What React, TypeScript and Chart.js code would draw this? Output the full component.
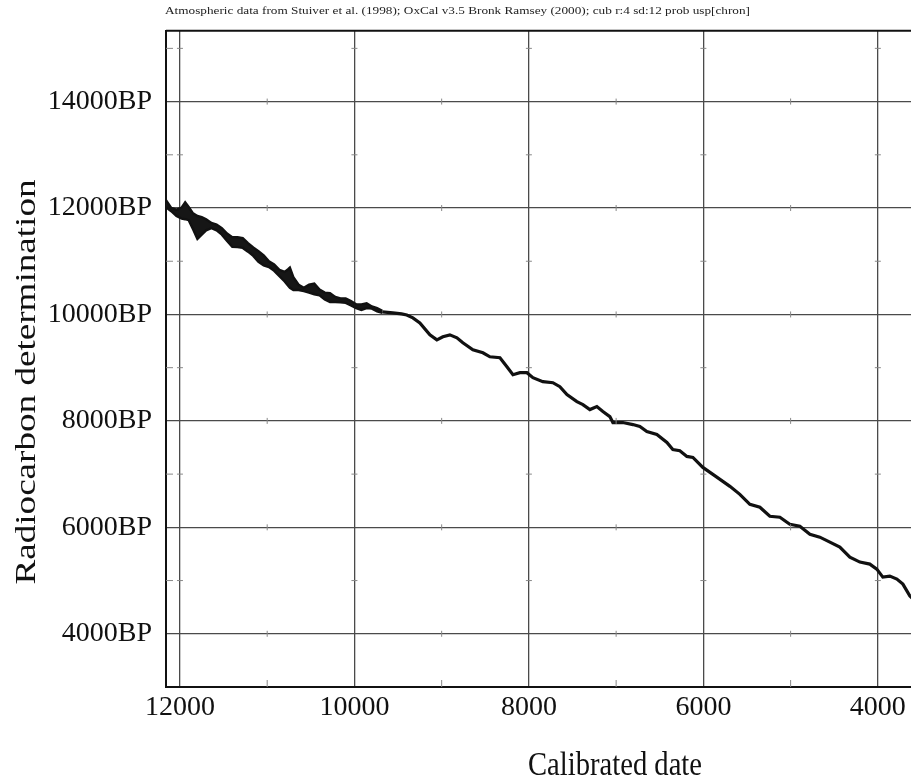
import React, { useEffect, useRef } from "react";
import { Chart, registerables } from "chart.js";

Chart.register(...registerables);

// ---- Data (calibrated date BC, radiocarbon BP) ----
const calBand = [12160, 12100, 12040, 11980, 11940, 11900, 11850, 11800, 11750, 11700, 11640, 11580, 11520, 11460, 11400, 11340, 11280, 11220, 11160, 11100, 11040, 10980, 10920, 10860, 10800, 10760, 10740, 10700, 10640, 10580, 10520, 10460, 10400, 10340, 10280, 10220, 10160, 10100, 10040, 9980, 9920, 9860, 9800, 9740, 9680];
const bandUpperBP = [12146, 12000, 11970, 12010, 12108, 12020, 11900, 11850, 11830, 11790, 11720, 11690, 11620, 11520, 11453, 11450, 11434, 11340, 11260, 11190, 11110, 11000, 10940, 10840, 10800, 10850, 10880, 10700, 10560, 10500, 10560, 10580, 10470, 10410, 10400, 10330, 10300, 10300, 10250, 10190, 10190, 10210, 10150, 10120, 10070];
const bandLowerBP = [12015, 11940, 11850, 11800, 11790, 11771, 11600, 11420, 11500, 11580, 11620, 11580, 11500, 11380, 11270, 11265, 11250, 11180, 11100, 10990, 10920, 10890, 10820, 10720, 10620, 10540, 10500, 10460, 10460, 10440, 10410, 10380, 10360, 10280, 10235, 10235, 10230, 10217, 10170, 10120, 10086, 10120, 10110, 10060, 10030];

const calLine = [9680, 9560, 9460, 9400, 9330, 9250, 9135, 9055, 8986, 8906, 8825, 8757, 8642, 8527, 8447, 8332, 8252, 8183, 8103, 8023, 7954, 7840, 7725, 7645, 7564, 7450, 7381, 7301, 7221, 7152, 7072, 7037, 6923, 6808, 6728, 6648, 6533, 6418, 6350, 6270, 6189, 6120, 6006, 5891, 5777, 5696, 5582, 5467, 5352, 5238, 5123, 5009, 4894, 4779, 4665, 4550, 4436, 4321, 4206, 4092, 4012, 3943, 3863, 3782, 3713, 3633, 3560];
const lineBP = [10050, 10030, 10010, 9990, 9935, 9842, 9617, 9523, 9580, 9617, 9561, 9467, 9336, 9280, 9205, 9186, 9018, 8868, 8906, 8906, 8812, 8737, 8718, 8643, 8494, 8362, 8306, 8213, 8269, 8175, 8081, 7969, 7969, 7931, 7894, 7800, 7744, 7594, 7463, 7440, 7332, 7313, 7126, 6995, 6864, 6770, 6620, 6433, 6377, 6208, 6190, 6059, 6021, 5871, 5815, 5721, 5628, 5440, 5347, 5309, 5215, 5065, 5084, 5028, 4934, 4709, 4600];

const majorCal = [4000, 6000, 8000, 10000, 12000];
const majorBP = [4000, 6000, 8000, 10000, 12000, 14000];
const minorCal = [11000, 9000, 7000, 5000];
const minorBP = [5000, 7000, 9000, 11000, 13000, 15000];

const headerText = "Atmospheric data from Stuiver et al. (1998); OxCal v3.5 Bronk Ramsey (2000); cub r:4 sd:12 prob usp[chron]";
const xTitle = "Calibrated date";
const yTitle = "Radiocarbon determination";

const SERIF = "'Liberation Serif', 'Times New Roman', serif";

const framePlugin = {
  id: "frame",
  afterDraw(chart: any) {
    const { ctx, chartArea: a, scales } = chart;
    const xs = scales.x;
    const ys = scales.y;
    ctx.save();
    // minor tick marks
    ctx.strokeStyle = "#888";
    ctx.lineWidth = 1;
    ctx.beginPath();
    for (const c of minorCal) {
      const px = xs.getPixelForValue(c);
      ctx.moveTo(px, a.bottom);
      ctx.lineTo(px, a.bottom - 7);
      for (const b of majorBP) {
        const py = ys.getPixelForValue(b);
        ctx.moveTo(px, py - 3);
        ctx.lineTo(px, py + 3);
      }
    }
    for (const b of minorBP) {
      const py = ys.getPixelForValue(b);
      if (py < a.top) continue;
      ctx.moveTo(a.left, py);
      ctx.lineTo(a.left + 7, py);
      for (const c of majorCal) {
        const px = xs.getPixelForValue(c);
        ctx.moveTo(px - 3, py);
        ctx.lineTo(px + 3, py);
      }
    }
    ctx.stroke();
    // top border
    ctx.strokeStyle = "#111";
    ctx.lineWidth = 2;
    ctx.beginPath();
    ctx.moveTo(a.left, a.top);
    ctx.lineTo(a.right, a.top);
    ctx.stroke();

    ctx.fillStyle = "#222";
    // header
    ctx.save();
    ctx.font = `10px ${SERIF}`;
    ctx.textBaseline = "middle";
    ctx.textAlign = "left";
    const hw = ctx.measureText(headerText).width;
    ctx.translate(165, 11);
    ctx.scale(585 / hw, 1);
    ctx.fillText(headerText, 0, 0);
    ctx.restore();

    // y title
    ctx.save();
    ctx.fillStyle = "#111";
    ctx.font = `29px ${SERIF}`;
    ctx.textAlign = "center";
    ctx.textBaseline = "alphabetic";
    const yw = ctx.measureText(yTitle).width;
    ctx.translate(35, 382);
    ctx.rotate(-Math.PI / 2);
    ctx.scale(405 / yw, 1);
    ctx.fillText(yTitle, 0, 0);
    ctx.restore();

    // x title
    ctx.save();
    ctx.fillStyle = "#111";
    ctx.font = `29px ${SERIF}`;
    ctx.textAlign = "center";
    ctx.textBaseline = "alphabetic";
    const xw = ctx.measureText(xTitle).width;
    ctx.translate(615, 775);
    ctx.scale(174 / xw, 1.15);
    ctx.fillText(xTitle, 0, 0);
    ctx.restore();

    ctx.restore();
  },
};

export default function App() {
  const ref = useRef<HTMLCanvasElement | null>(null);

  useEffect(() => {
    if (!ref.current) return;
    const chart = new Chart(ref.current, {
      type: "line",
      data: {
        datasets: [
          {
            data: calBand.map((c, i) => ({ x: c, y: bandUpperBP[i] })),
            borderColor: "#111",
            borderWidth: 2.4,
            pointRadius: 0,
            fill: false,
            tension: 0,
          },
          {
            data: calBand.map((c, i) => ({ x: c, y: bandLowerBP[i] })),
            borderColor: "#111",
            backgroundColor: "#161616",
            borderWidth: 2.4,
            pointRadius: 0,
            fill: "-1",
            tension: 0,
          },
          {
            data: calLine.map((c, i) => ({ x: c, y: lineBP[i] })),
            borderColor: "#111",
            borderWidth: 3.2,
            pointRadius: 0,
            fill: false,
            tension: 0,
          },
        ],
      },
      options: {
        animation: false,
        responsive: false,
        devicePixelRatio: 1,
        layout: { padding: { top: 30, left: 0, right: 0, bottom: 0 } },
        plugins: {
          legend: { display: false },
          title: { display: false },
          tooltip: { enabled: false },
        },
        scales: {
          x: {
            type: "linear",
            reverse: true,
            min: 3620,
            max: 12160,
            afterBuildTicks: (s: any) => {
              s.ticks = majorCal.map((v) => ({ value: v }));
            },
            afterFit: (s: any) => {
              s.height = 93;
            },
            ticks: {
              autoSkip: false,
              maxRotation: 0,
              padding: 4,
              color: "#111",
              font: { family: SERIF, size: 28 },
              callback: (v: any) => String(v),
            },
            grid: { color: "#4a4a4a", lineWidth: 1.3, drawTicks: false },
            border: { display: true, color: "#111", width: 2 },
          },
          y: {
            type: "linear",
            min: 3000,
            max: 15330,
            afterBuildTicks: (s: any) => {
              s.ticks = majorBP.map((v) => ({ value: v }));
            },
            afterFit: (s: any) => {
              s.width = 166;
            },
            ticks: {
              autoSkip: false,
              padding: 14,
              color: "#111",
              font: { family: SERIF, size: 28 },
              callback: (v: any) => `${v}BP`,
            },
            grid: { color: "#4a4a4a", lineWidth: 1.3, drawTicks: false },
            border: { display: true, color: "#111", width: 2 },
          },
        },
      },
      plugins: [framePlugin],
    });
    return () => chart.destroy();
  }, []);

  return (
    <div style={{ position: "fixed", left: 0, top: 0, width: 911, height: 780, background: "#fff" }}>
      <canvas ref={ref} width={911} height={780} style={{ display: "block" }} />
    </div>
  );
}
